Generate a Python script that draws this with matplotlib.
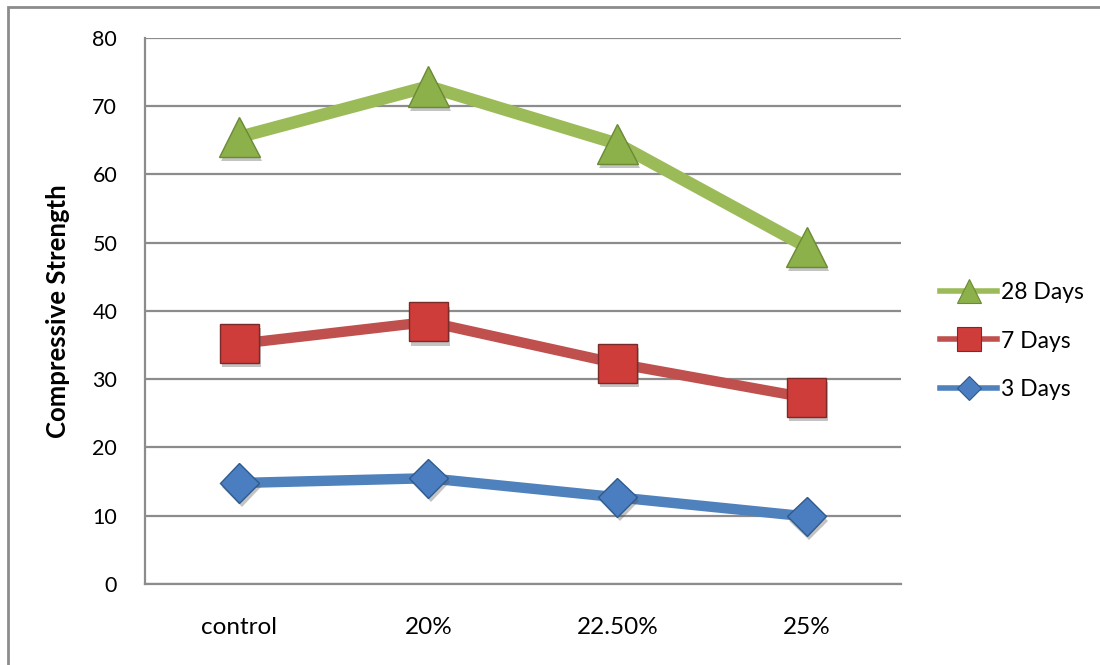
import matplotlib
matplotlib.use("Agg")
import matplotlib.pyplot as plt
import matplotlib.patheffects as pe
from matplotlib.lines import Line2D
from matplotlib.patches import Rectangle

# data
categories = ["control", "20%", "22.50%", "25%"]
days_28 = [65.5, 72.9, 64.5, 49.4]
days_7 = [35.2, 38.4, 32.3, 27.3]
days_3 = [14.8, 15.5, 12.7, 9.9]
y_ticks = [0, 10, 20, 30, 40, 50, 60, 70, 80]

plt.rcParams['font.family'] = ['Lato', 'DejaVu Sans']

fig = plt.figure(figsize=(11, 6.65), dpi=100)
ax = fig.add_axes([0.1318, 0.1218, 0.6873, 0.8211])

# outer chart border (only top and left edges visible in the reference)
fig.patches.append(Rectangle((8 / 1100, -0.1), 1.2, 1 - 7 / 665 + 0.1,
                             transform=fig.transFigure, fill=False,
                             edgecolor="#8c8c8c", linewidth=2))

x = list(range(len(categories)))

series = [
    ("28 Days", days_28, "#9bbb59", "#8cb04a", "#6b8a35", "^", 29, 9.0),
    ("7 Days", days_7, "#c0504d", "#cf3d3a", "#7a2a28", "s", 28, 7.5),
    ("3 Days", days_3, "#4f81bd", "#4a7ec0", "#2f5a8c", "D", 20, 7.5),
]

shadow = [pe.SimplePatchShadow(offset=(1.5, -3), alpha=0.35, shadow_rgbFace="#555555"),
          pe.Normal()]

handles = []
for label, vals, lc, fc, ec, mk, ms, lw in series:
    ax.plot(x, vals, color=lc, linewidth=lw, solid_capstyle="butt", zorder=2)
    ax.plot(x, vals, linestyle="none", marker=mk, markersize=ms,
            markerfacecolor=fc, markeredgecolor=ec, markeredgewidth=1.0,
            zorder=3, path_effects=shadow)
    handles.append(Line2D([], [], color=lc, linewidth=4, marker=mk,
                          markersize=ms * 0.6, markerfacecolor=fc,
                          markeredgecolor=ec, markeredgewidth=0.8, label=label))

ax.set_xlim(-0.5, len(categories) - 0.5)
ax.set_ylim(0, 80)
ax.set_yticks(y_ticks)
ax.set_xticks(x)
ax.set_xticklabels(categories)

ax.grid(axis="y", color="#8c8c8c", linewidth=1.6)
ax.set_axisbelow(True)
for s in ["top", "right"]:
    ax.spines[s].set_visible(False)
for s in ["left", "bottom"]:
    ax.spines[s].set_color("#8c8c8c")
    ax.spines[s].set_linewidth(1.6)
ax.tick_params(axis="both", length=0)
ax.tick_params(axis="y", pad=20, labelsize=15.5)
ax.tick_params(axis="x", pad=24, labelsize=17.5)

ax.set_ylabel("Compressive Strength", fontsize=18.5, fontweight="bold")
ax.yaxis.set_label_coords(-0.099, 0.5)

leg = ax.legend(handles=handles, loc="center left", bbox_to_anchor=(1.0516, 0.445),
                frameon=False, fontsize=16.5, handlelength=2.5, handletextpad=0.15,
                labelspacing=1.2, borderpad=0, borderaxespad=0)

fig.savefig("out.png", dpi=100)
